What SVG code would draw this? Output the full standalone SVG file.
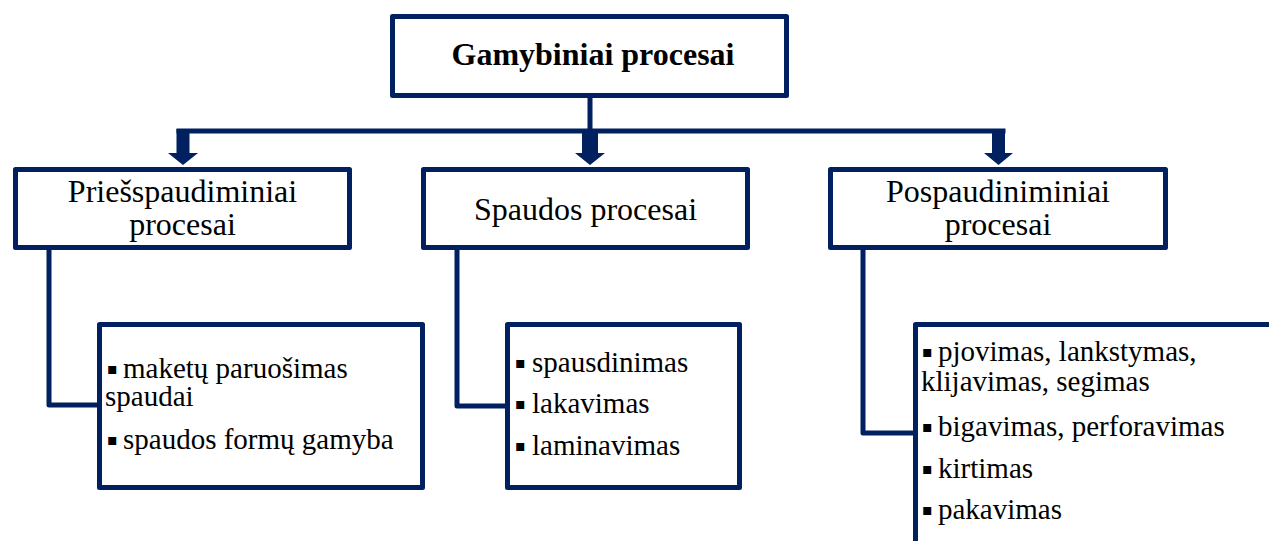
<svg xmlns="http://www.w3.org/2000/svg" width="1269" height="541" viewBox="0 0 1269 541">
  <defs>
    <style>
      .box { fill: #ffffff; stroke: #002060; stroke-width: 5; stroke-linejoin: round; }
      .line { fill: none; stroke: #002060; stroke-width: 5; stroke-linejoin: round; stroke-linecap: square; }
      .arrow { fill: #002060; }
      .title { font-family: "Liberation Serif", "Times New Roman", serif; font-size: 32px; font-weight: bold; fill: #000; text-anchor: middle; }
      .head { font-family: "Liberation Serif", "Times New Roman", serif; font-size: 32px; fill: #000; text-anchor: middle; }
      .item { font-family: "Liberation Serif", "Times New Roman", serif; font-size: 29px; fill: #000; }
      .bul { font-family: "DejaVu Sans", sans-serif; font-size: 16px; }
    </style>
  </defs>

  <!-- connectors -->
  <g id="connectors">
    <path class="line" d="M590 98 V131 M179 131 H1003"/>
    <path class="arrow" d="M176.5 129 H189.5 V153 H198 L183 165 L168 153 H176.5 Z"/>
    <path class="arrow" d="M582 129 H598 V153 H605 L590 165 L575 153 H582 Z"/>
    <path class="arrow" d="M992 129 H1005 V153 H1013 L998.5 165 L984 153 H992 Z"/>
    <path class="line" d="M49 250 V405 H99"/>
    <path class="line" d="M457 250 V406 H507"/>
    <path class="line" d="M863 250 V433 H915"/>
  </g>

  <!-- top node -->
  <g id="node-gamybiniai">
    <rect class="box" x="392.5" y="16.5" width="394" height="79"/>
    <text class="title" x="593" y="65">Gamybiniai procesai</text>
  </g>

  <!-- second level -->
  <g id="node-priesspaudiminiai">
    <rect class="box" x="15.5" y="169.5" width="334" height="78"/>
    <text class="head" x="182.5" y="202">Priešspaudiminiai</text>
    <text class="head" x="182.5" y="235">procesai</text>
  </g>
  <g id="node-spaudos">
    <rect class="box" x="423.5" y="169.5" width="324" height="78"/>
    <text class="head" x="585.5" y="220">Spaudos procesai</text>
  </g>
  <g id="node-pospaudiniminiai">
    <rect class="box" x="830.5" y="169.5" width="335" height="78"/>
    <text class="head" x="998" y="202">Pospaudiniminiai</text>
    <text class="head" x="998" y="235">procesai</text>
  </g>

  <!-- third level: bullet squares are raised to mid x-height -->
  <g id="node-priesspaudiminiai-list">
    <rect class="box" x="99.5" y="324.5" width="323" height="163"/>
    <text class="item" x="107" y="378"><tspan class="bul" dy="-4">▪</tspan><tspan x="123" dy="4">maketų paruošimas</tspan></text>
    <text class="item" x="105" y="406">spaudai</text>
    <text class="item" x="107" y="449"><tspan class="bul" dy="-4">▪</tspan><tspan x="123" dy="4">spaudos formų gamyba</tspan></text>
  </g>
  <g id="node-spaudos-list">
    <rect class="box" x="507.5" y="324.5" width="232" height="163"/>
    <text class="item" x="515" y="372"><tspan class="bul" dy="-4">▪</tspan><tspan x="532" dy="4">spausdinimas</tspan></text>
    <text class="item" x="515" y="413"><tspan class="bul" dy="-4">▪</tspan><tspan x="532" dy="4">lakavimas</tspan></text>
    <text class="item" x="515" y="455"><tspan class="bul" dy="-4">▪</tspan><tspan x="532" dy="4">laminavimas</tspan></text>
  </g>
  <g id="node-pospaudiniminiai-list">
    <rect class="box" x="915.5" y="324.5" width="400" height="260"/>
    <text class="item" x="922" y="361"><tspan class="bul" dy="-4">▪</tspan><tspan x="938" dy="4">pjovimas, lankstymas,</tspan></text>
    <text class="item" x="921" y="391">klijavimas, segimas</text>
    <text class="item" x="922" y="436"><tspan class="bul" dy="-4">▪</tspan><tspan x="938" dy="4">bigavimas, perforavimas</tspan></text>
    <text class="item" x="922" y="478"><tspan class="bul" dy="-4">▪</tspan><tspan x="938" dy="4">kirtimas</tspan></text>
    <text class="item" x="922" y="519"><tspan class="bul" dy="-4">▪</tspan><tspan x="938" dy="4">pakavimas</tspan></text>
  </g>
</svg>
